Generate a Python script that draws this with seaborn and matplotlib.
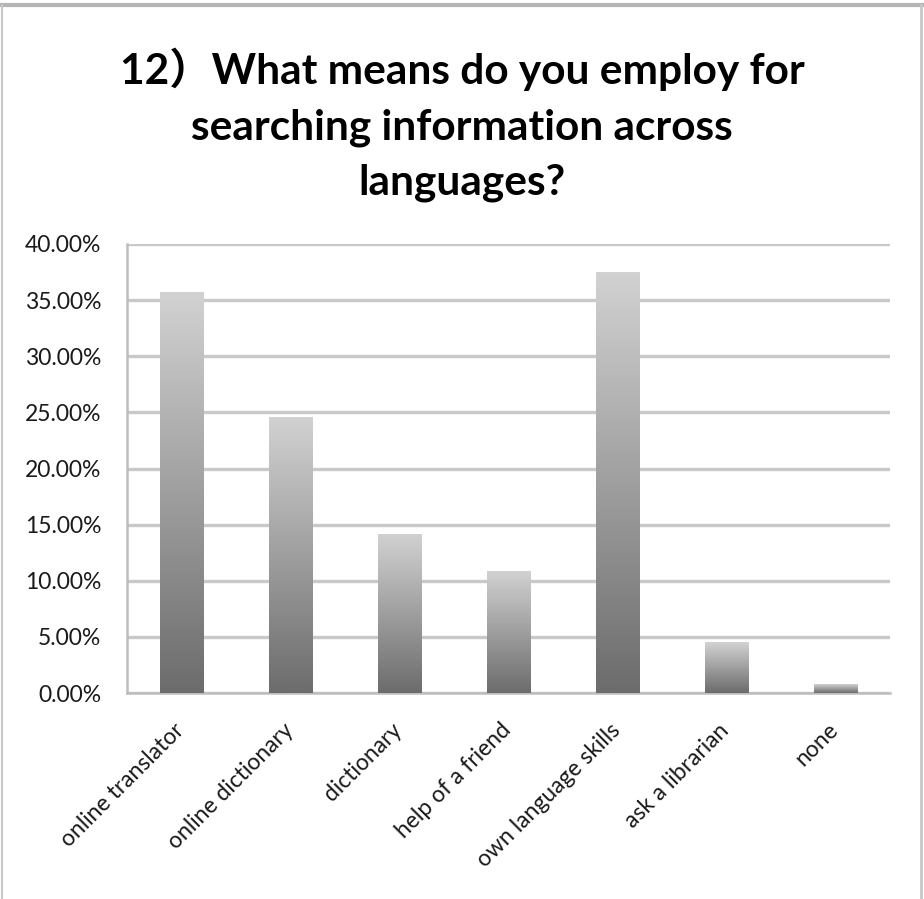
import numpy as np
import matplotlib
matplotlib.use("Agg")
import matplotlib.pyplot as plt
from matplotlib.colors import LinearSegmentedColormap
from matplotlib.lines import Line2D
from matplotlib.transforms import ScaledTranslation
import seaborn as sns
import pandas as pd

categories = ["online translator", "online dictionary", "dictionary", "help of a friend",
              "own language skills", "ask a librarian", "none"]
values = [35.7, 24.6, 14.2, 10.9, 37.5, 4.5, 0.8]
yticks = [0, 5, 10, 15, 20, 25, 30, 35, 40]
ytick_labels = ["0.00%", "5.00%", "10.00%", "15.00%", "20.00%", "25.00%", "30.00%", "35.00%", "40.00%"]
title = "12）What means do you employ for\nsearching information across\nlanguages?"

sns.set_theme(style="white")
plt.rcParams["font.family"] = ["Lato", "Noto Sans CJK JP", "DejaVu Sans"]

W, H = 924, 899
fig = plt.figure(figsize=(W / 100, H / 100), dpi=100)
fig.patch.set_facecolor("white")
ax = fig.add_axes([127 / W, 1 - 693 / H, (890 - 127) / W, (693 - 244) / H])

df = pd.DataFrame({"cat": categories, "val": values})
sns.barplot(data=df, x="cat", y="val", ax=ax, width=0.4, color="#999999", zorder=3)

cmap = LinearSegmentedColormap.from_list("g", ["#6c6c6c", "#d2d2d2"])
grad = np.linspace(0, 1, 256).reshape(-1, 1)
for p in ax.patches:
    x0, y0 = p.get_x(), p.get_y()
    w, h = p.get_width(), p.get_height()
    im = ax.imshow(grad, cmap=cmap, origin="lower", extent=[x0, x0 + w, y0, y0 + h],
                   aspect="auto", zorder=3, interpolation="bilinear")
    im.set_clip_path(p)
    p.set_facecolor("none")
    p.set_edgecolor("none")

ax.set_xlim(-0.5, len(categories) - 0.5)
ax.set_ylim(0, 40)
ax.set_yticks(yticks)
ax.set_yticklabels(ytick_labels)
ax.set_axisbelow(True)
ax.yaxis.grid(True, color="#c9c9c9", lw=2.4)
ax.xaxis.grid(False)
for s in ["top", "right"]:
    ax.spines[s].set_visible(False)
for s in ["left", "bottom"]:
    ax.spines[s].set_color("#bdbdbd")
    ax.spines[s].set_linewidth(1.8)
ax.set_xlabel("")
ax.set_ylabel("")
ax.tick_params(axis="y", length=0, pad=18.5, labelsize=16.5, labelcolor="#1a1a1a")
ax.tick_params(axis="x", length=0, pad=19, labelsize=16.5, labelcolor="#1a1a1a")
plt.setp(ax.get_xticklabels(), rotation=45, ha="right", va="top", rotation_mode="anchor")
for lab in ax.get_xticklabels():
    lab.set_transform(lab.get_transform() + ScaledTranslation(-8 / 100, 0, fig.dpi_scale_trans))

fig.text(0.5, 1 - 125 / H, title, ha="center", va="center", fontsize=30.5,
         fontweight="bold", linespacing=1.55, color="black")

# outer frame
fig.add_artist(Line2D([0, 1], [1 - 5 / H, 1 - 5 / H], color="#b5b5b5", lw=3, transform=fig.transFigure))
fig.add_artist(Line2D([2 / W, 2 / W], [0, 1 - 5 / H], color="#c8c8c8", lw=1.5, transform=fig.transFigure))
fig.add_artist(Line2D([921 / W, 921 / W], [0, 1 - 5 / H], color="#c8c8c8", lw=2, transform=fig.transFigure))

fig.savefig("out.png", dpi=100)
